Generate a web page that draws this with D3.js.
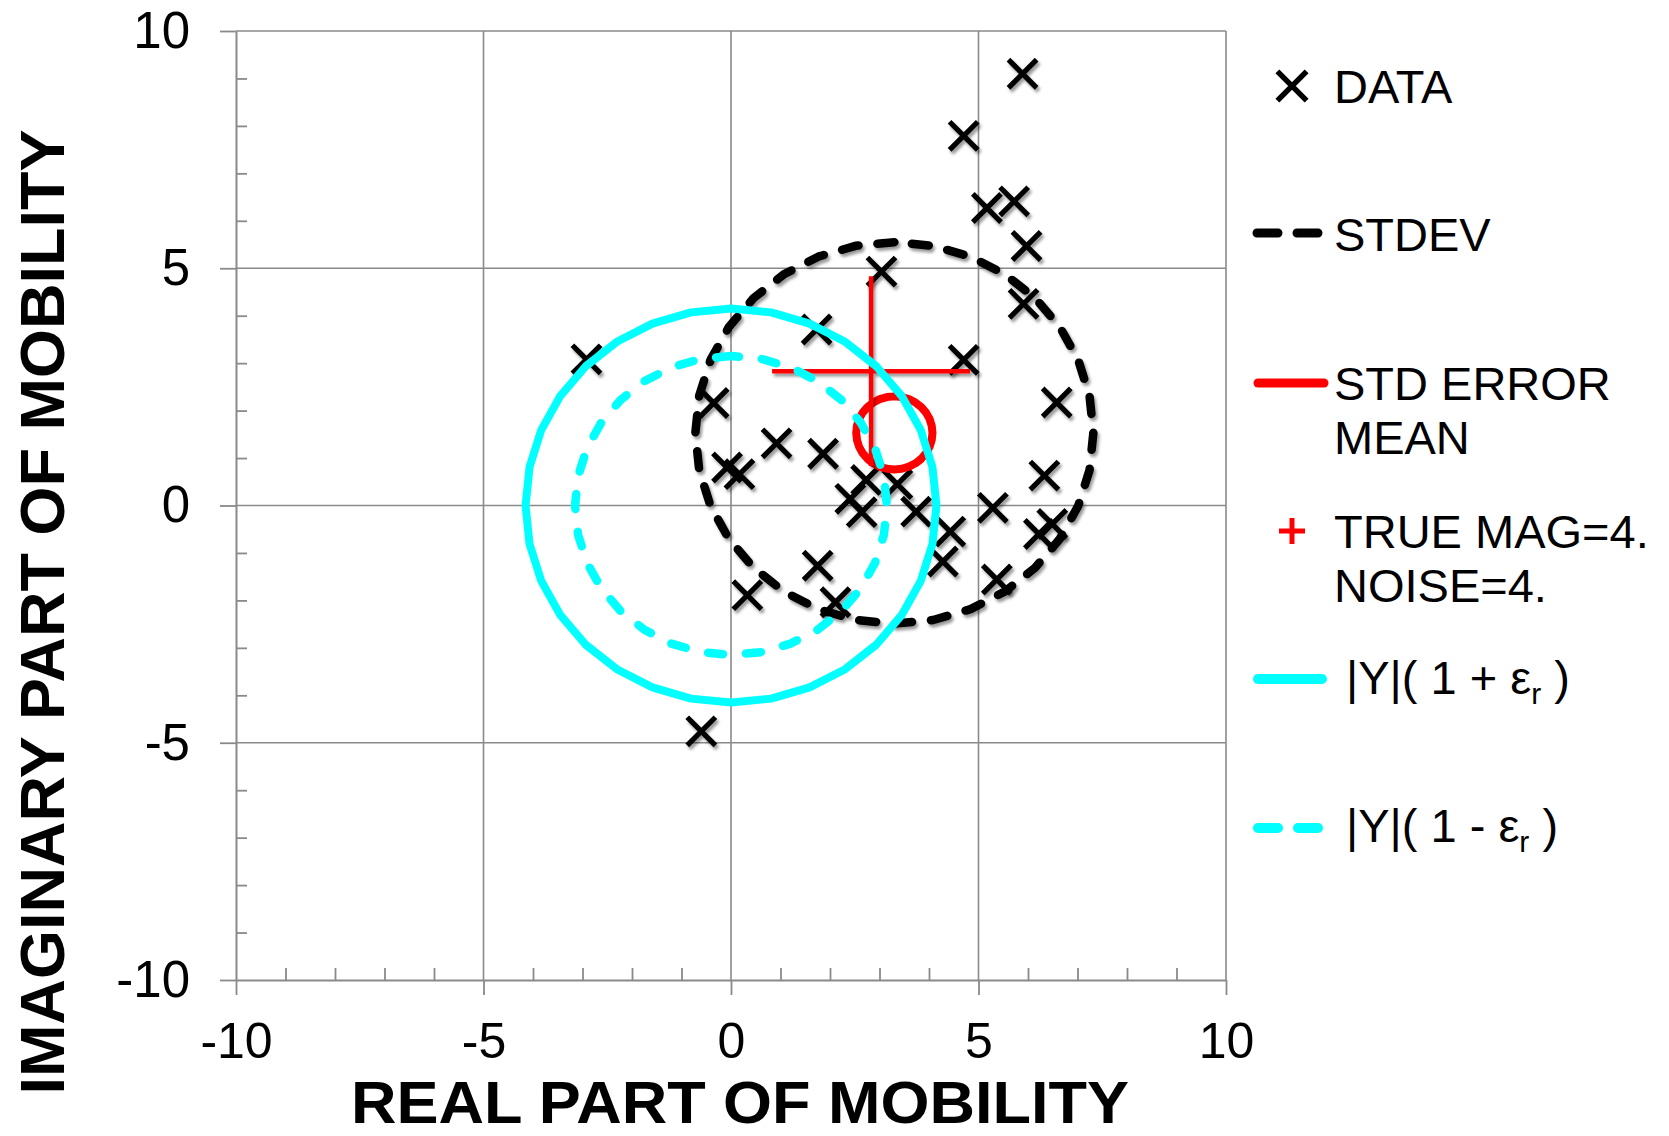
<!DOCTYPE html>
<html>
<head>
<meta charset="utf-8">
<script src="https://cdn.jsdelivr.net/npm/d3@7"></script>
<style>
  html, body { margin: 0; padding: 0; background: #fff; }
  svg { display: block; }
  text { font-family: "Liberation Sans", Arial, sans-serif; fill: #000; }
</style>
</head>
<body>
<svg id="chart" width="1669" height="1136"></svg>
<script>
// ---------------- data ----------------
const dataRe = [5.89, 4.70, 5.17, 5.72, 5.97, 3.04, 5.91, 1.73, 4.70, 6.58,
                -0.35, 0.92, -0.08, 0.17, 1.86, 6.33, 2.73, 3.36, 2.41, 2.64,
                3.74, 5.29, 4.43, 6.49, 6.22, 4.28, 1.75, 5.37, 0.33, 2.11,
                -0.60, -2.92];
const dataIm = [9.10, 7.79, 6.27, 6.41, 5.47, 4.93, 4.25, 3.71, 3.07, 2.17,
                2.16, 1.31, 0.80, 0.66, 1.09, 0.63, 0.54, 0.45, 0.14, -0.14,
                -0.13, -0.05, -0.55, -0.39, -0.60, -1.18, -1.27, -1.56, -1.89, -2.04,
                -4.76, 3.08];

// circles: STDEV, STD ERROR MEAN, |Y|(1+er), |Y|(1-er)
const circleKeys = ["stdev", "sem", "plus", "minus"];
const circleCx = [3.30, 3.30, 0, 0];
const circleCy = [1.53, 1.53, 0, 0];
const circleR  = [4.02, 0.77, 4.15, 3.15];

// true value cross
const trueRe = [2.83];
const trueIm = [2.83];
const trueHalf = [2.0];

const xMajorTicks = [-10, -5, 0, 5, 10];
const yMajorTicks = [-10, -5, 0, 5, 10];
const minorTicks = d3.range(-10, 11, 1);

const legendLabels = ["DATA", "STDEV", "STD ERROR", "MEAN", "TRUE MAG=4.", "NOISE=4."];

// ---------------- layout ----------------
const svg = d3.select("#chart");
const L = 236, R = 1226, T = 31, B = 980;
const x = d3.scaleLinear().domain([-10, 10]).range([L, R]);
const y = d3.scaleLinear().domain([-10, 10]).range([B, T]);
const gridColor = "#8a8a8a";
const fmt = d => String(d);

const defs = svg.append("defs");
const f = defs.append("filter").attr("id", "shadow")
  .attr("x", "-30%").attr("y", "-30%").attr("width", "160%").attr("height", "160%");
f.append("feDropShadow").attr("dx", 2).attr("dy", 3).attr("stdDeviation", 1.6)
  .attr("flood-color", "#000").attr("flood-opacity", 0.4);

// gridlines
const grid = svg.append("g");
grid.selectAll(".vg").data(xMajorTicks.filter(d => d > -10)).enter().append("line")
  .attr("x1", d => x(d)).attr("x2", d => x(d)).attr("y1", y(10)).attr("y2", y(-10))
  .attr("stroke", gridColor).attr("stroke-width", 1.6);
grid.selectAll(".hg").data(yMajorTicks.filter(d => d > -10)).enter().append("line")
  .attr("y1", d => y(d)).attr("y2", d => y(d)).attr("x1", x(-10)).attr("x2", x(10))
  .attr("stroke", gridColor).attr("stroke-width", 1.6);

// axes
function styleAxis(g) {
  g.selectAll("path.domain").attr("stroke", gridColor).attr("stroke-width", 2);
  g.selectAll(".tick line").attr("stroke", gridColor).attr("stroke-width", 1.8);
}
const yMinor = svg.append("g").attr("transform", `translate(${L},0)`)
  .call(d3.axisLeft(y).tickValues(minorTicks.filter(d => d % 5 !== 0)).tickSize(-11).tickFormat(""));
yMinor.select("path.domain").remove();
styleAxis(yMinor);
const xMinor = svg.append("g").attr("transform", `translate(0,${B})`)
  .call(d3.axisBottom(x).tickValues(minorTicks.filter(d => d % 5 !== 0)).tickSize(-12).tickFormat(""));
xMinor.select("path.domain").remove();
styleAxis(xMinor);

const yAxis = svg.append("g").attr("transform", `translate(${L},0)`)
  .call(d3.axisLeft(y).tickValues(yMajorTicks).tickSize(16).tickSizeOuter(0).tickPadding(30).tickFormat(fmt));
styleAxis(yAxis);
yAxis.selectAll("text").attr("font-size", 51).attr("font-family", "Liberation Sans, Arial, sans-serif").attr("fill", "#000");

const xAxis = svg.append("g").attr("transform", `translate(0,${B})`)
  .call(d3.axisBottom(x).tickValues(xMajorTicks).tickSize(15).tickSizeOuter(0).tickPadding(27).tickFormat(fmt));
styleAxis(xAxis);
xAxis.selectAll("text").attr("font-size", 50).attr("font-family", "Liberation Sans, Arial, sans-serif").attr("fill", "#000");

// axis titles
svg.append("text").attr("x", 740).attr("y", 1123).attr("text-anchor", "middle")
  .attr("font-size", 60).attr("font-weight", "bold")
  .attr("textLength", 778).attr("lengthAdjust", "spacingAndGlyphs")
  .text("REAL PART OF MOBILITY");
svg.append("text").attr("transform", "translate(64,612) rotate(-90)").attr("text-anchor", "middle")
  .attr("font-size", 63).attr("font-weight", "bold").text("IMAGINARY PART OF MOBILITY");

// ---------------- marks ----------------
const plot = svg.append("g");
const pts = dataRe.map((d, i) => ({ re: d, im: dataIm[i] }));
const xSym = d3.symbol(d3.symbolX, 520);

plot.append("g").attr("filter", "url(#shadow)").selectAll("path").data(pts).enter().append("path")
  .attr("transform", d => `translate(${x(d.re)},${y(d.im)})`)
  .attr("d", xSym).attr("fill", "none").attr("stroke", "#000").attr("stroke-width", 5.2);

const NSEG = 32;
const circ = circleKeys.map((k, i) => ({ key: k, cx: circleCx[i], cy: circleCy[i], r: circleR[i] }));
const lineGen = d3.line().x(p => x(p[0])).y(p => y(p[1]));
function ring(c) {
  return d3.range(NSEG + 1).map(j => {
    const a = Math.PI / 2 + j * 2 * Math.PI / NSEG;
    return [c.cx + c.r * Math.cos(a), c.cy + c.r * Math.sin(a)];
  });
}
const style = {
  stdev: { stroke: "#000", w: 8.5, dash: "17,19", filter: "url(#shadow)" },
  sem:   { stroke: "#ff0000", w: 8, dash: null, filter: null },
  plus:  { stroke: "#00ffff", w: 8, dash: null, filter: null },
  minus: { stroke: "#00ffff", w: 8.5, dash: "15,23", filter: null }
};

function drawCircle(c) {
  const s = style[c.key];
  plot.append("path").attr("d", lineGen(ring(c))).attr("fill", "none")
    .attr("stroke", s.stroke).attr("stroke-width", s.w)
    .attr("stroke-linecap", "round").attr("stroke-linejoin", "round")
    .attr("stroke-dasharray", s.dash).attr("filter", s.filter);
}
drawCircle(circ[0]);
drawCircle(circ[1]);

// TRUE cross
const tc = trueRe.map((d, i) => ({ re: d, im: trueIm[i], h: trueHalf[i] }));
const crossG = plot.append("g").attr("filter", "url(#shadow)");
tc.forEach(t => {
  crossG.append("line").attr("x1", x(t.re - t.h)).attr("x2", x(t.re + t.h))
    .attr("y1", y(t.im)).attr("y2", y(t.im)).attr("stroke", "#ff0000").attr("stroke-width", 4.5);
  crossG.append("line").attr("x1", x(t.re)).attr("x2", x(t.re))
    .attr("y1", y(t.im - t.h)).attr("y2", y(t.im + t.h)).attr("stroke", "#ff0000").attr("stroke-width", 4.5);
});
drawCircle(circ[2]);
drawCircle(circ[3]);

// ---------------- legend ----------------
const lg = svg.append("g");
const fs = 47;
lg.append("path").attr("transform", "translate(1292,86)").attr("d", d3.symbol(d3.symbolX, 560))
  .attr("fill", "none").attr("stroke", "#000").attr("stroke-width", 5.5);
lg.append("text").attr("x", 1334).attr("y", 103).attr("font-size", fs).text(legendLabels[0]);

lg.append("line").attr("x1", 1257).attr("x2", 1319).attr("y1", 233).attr("y2", 233)
  .attr("stroke", "#000").attr("stroke-width", 9).attr("stroke-linecap", "round").attr("stroke-dasharray", "21,19");
lg.append("text").attr("x", 1334).attr("y", 251).attr("font-size", fs).text(legendLabels[1]);

lg.append("line").attr("x1", 1258).attr("x2", 1324).attr("y1", 383).attr("y2", 383)
  .attr("stroke", "#ff0000").attr("stroke-width", 9).attr("stroke-linecap", "round");
lg.append("text").attr("x", 1334).attr("y", 400).attr("font-size", fs).text(legendLabels[2]);
lg.append("text").attr("x", 1334).attr("y", 454).attr("font-size", fs).text(legendLabels[3]);

const plusG = lg.append("g").attr("stroke", "#ff0000").attr("stroke-width", 5);
plusG.append("line").attr("x1", 1279).attr("x2", 1305).attr("y1", 531).attr("y2", 531);
plusG.append("line").attr("x1", 1292).attr("x2", 1292).attr("y1", 518).attr("y2", 544);
lg.append("text").attr("x", 1334).attr("y", 548).attr("font-size", fs).text(legendLabels[4]);
lg.append("text").attr("x", 1334).attr("y", 602).attr("font-size", fs).text(legendLabels[5]);

lg.append("line").attr("x1", 1258).attr("x2", 1322).attr("y1", 679).attr("y2", 679)
  .attr("stroke", "#00ffff").attr("stroke-width", 10).attr("stroke-linecap", "round");
const t1 = lg.append("text").attr("x", 1346).attr("y", 694).attr("font-size", fs).attr("xml:space", "preserve");
t1.append("tspan").text("|Y|( 1 + ε");
t1.append("tspan").attr("font-size", 30).attr("dy", 10).text("r");
t1.append("tspan").attr("dy", -10).text(" )");

lg.append("line").attr("x1", 1258).attr("x2", 1318).attr("y1", 828).attr("y2", 828)
  .attr("stroke", "#00ffff").attr("stroke-width", 10).attr("stroke-linecap", "round").attr("stroke-dasharray", "20,20");
const t2 = lg.append("text").attr("x", 1346).attr("y", 842).attr("font-size", fs).attr("xml:space", "preserve");
t2.append("tspan").text("|Y|( 1 - ε");
t2.append("tspan").attr("font-size", 30).attr("dy", 10).text("r");
t2.append("tspan").attr("dy", -10).text(" )");
</script>
</body>
</html>
